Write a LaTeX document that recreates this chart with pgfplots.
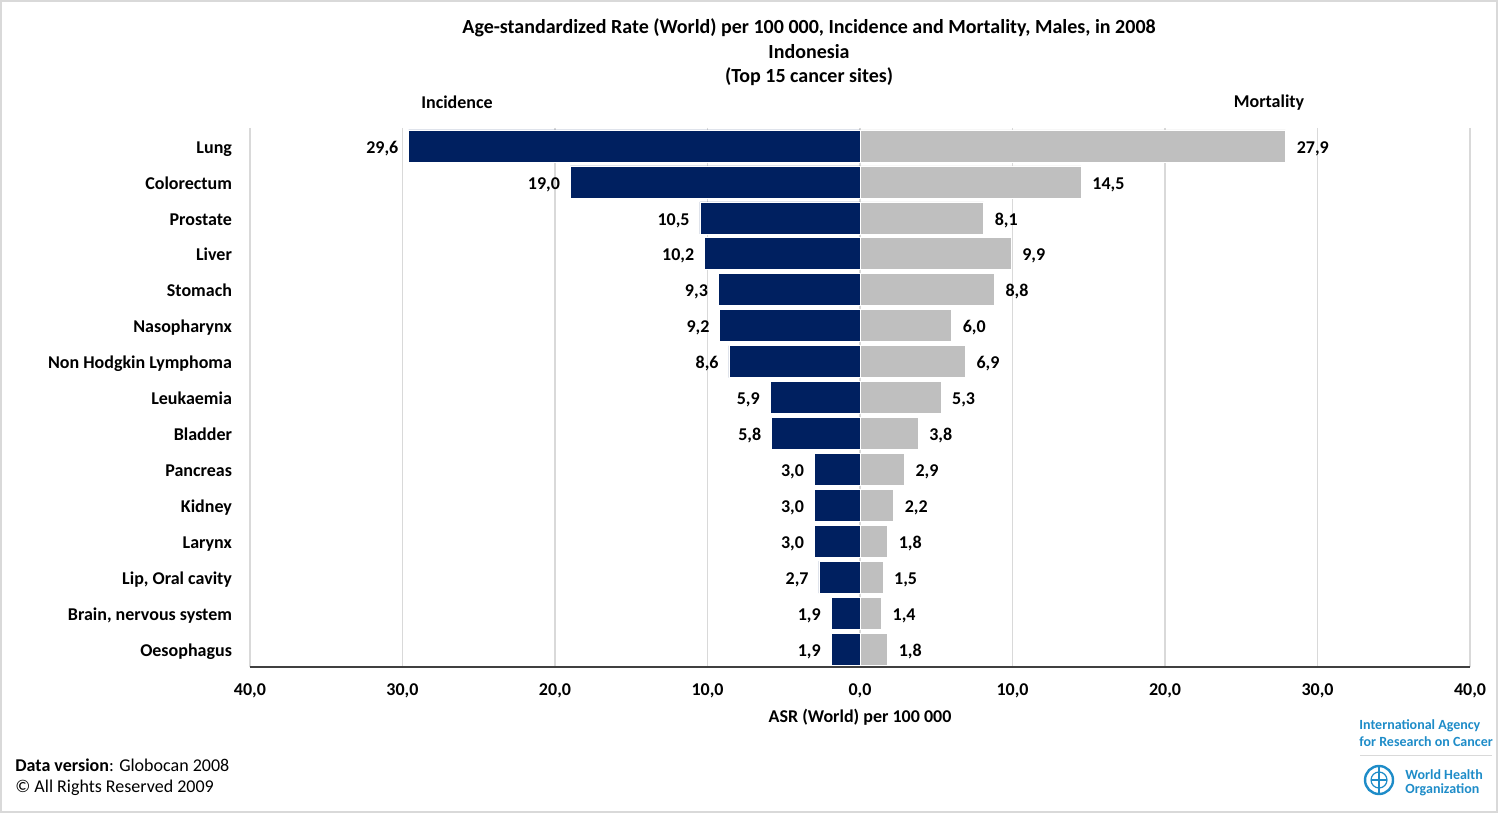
\documentclass[border=0pt]{standalone}
\usepackage{fontspec}
\setmainfont{Carlito}
\usepackage{pgfplots}
\usepackage{pgfplotstable}
\pgfplotsset{compat=1.18}
\definecolor{navy}{RGB}{0,32,96}
\definecolor{mgray}{RGB}{191,191,191}
\definecolor{iarc}{RGB}{30,140,200}
\pgfplotstableread{
idx inc mor inclab morlab
0 -29.6 27.9 29,6 27,9
1 -19.0 14.5 19,0 14,5
2 -10.5 8.1 10,5 8,1
3 -10.2 9.9 10,2 9,9
4 -9.3 8.8 9,3 8,8
5 -9.2 6.0 9,2 6,0
6 -8.6 6.9 8,6 6,9
7 -5.9 5.3 5,9 5,3
8 -5.8 3.8 5,8 3,8
9 -3.0 2.9 3,0 2,9
10 -3.0 2.2 3,0 2,2
11 -3.0 1.8 3,0 1,8
12 -2.7 1.5 2,7 1,5
13 -1.9 1.4 1,9 1,4
14 -1.9 1.8 1,9 1,8
}\data
\begin{document}
\begin{tikzpicture}[x=0.5pt,y=0.5pt]
\useasboundingbox (0,0) rectangle (1498,813);
\draw[draw=black!15,line width=1pt] (1,1) rectangle (1497,812);
\begin{axis}[
  at={(125pt,73pt)}, anchor=south west,
  scale only axis, width=610pt, height=269.5pt,
  xmin=-40, xmax=40, ymin=-0.5, ymax=14.5,
  y dir=reverse,
  xbar, bar width=16pt, bar shift=0pt,
  axis x line*=bottom, axis y line*=left,
  x axis line style={black!75,line width=0.8pt},
  y axis line style={draw=none},
  xmajorgrids, grid style={black!15,line width=0.6pt},
  xtick={-40,-30,-20,-10,0,10,20,30,40},
  xticklabels={{40,0},{30,0},{20,0},{10,0},{0,0},{10,0},{20,0},{30,0},{40,0}},
  ytick={0,...,14},
  yticklabels={Lung,Colorectum,Prostate,Liver,Stomach,Nasopharynx,Non Hodgkin Lymphoma,Leukaemia,Bladder,Pancreas,Kidney,Larynx,{Lip, Oral cavity},{Brain, nervous system},Oesophagus},
  major tick length=0pt,
  tick style={draw=none},
  xticklabel style={font=\bfseries\fontsize{9}{10}\selectfont, yshift=-5pt},
  yticklabel style={font=\bfseries\fontsize{9}{10}\selectfont, xshift=-5.5pt, text height=1.3ex, text depth=0pt, yshift=-0.5pt},
  nodes near coords={\pgfplotspointmeta},
  point meta=explicit symbolic,
  every node near coord/.append style={font=\bfseries\fontsize{9}{10}\selectfont, inner sep=0pt, text height=1.3ex, text depth=0pt, yshift=-0.5pt},
  clip=false,
]
\addplot[fill=navy, draw=white, line width=0.3pt, every node near coord/.append style={anchor=east, xshift=-5pt}] table[x=inc, y=idx, meta=inclab] {\data};
\addplot[fill=mgray, draw=white, line width=0.3pt, every node near coord/.append style={anchor=west, xshift=5.5pt}] table[x=mor, y=idx, meta=morlab] {\data};
\end{axis}
\begin{scope}[every node/.style={font=\bfseries\fontsize{10}{12}\selectfont}]
\node at (809,785) {Age-standardized Rate (World) per 100 000, Incidence and Mortality, Males, in 2008};
\node at (809,761) {Indonesia};
\node at (809,736) {(Top 15 cancer sites)};
\end{scope}
\node[font=\bfseries\fontsize{9}{10}\selectfont] at (457,711) {Incidence};
\node[font=\bfseries\fontsize{9}{10}\selectfont] at (1269,710) {Mortality};
\node[font=\bfseries\fontsize{9}{10}\selectfont] at (860,96) {ASR (World) per 100 000};
\node[font=\fontsize{9}{10}\selectfont, anchor=west, inner sep=0pt] at (15,48) {\textbf{Data version}: Globocan 2008};
\node[font=\fontsize{9}{10}\selectfont, anchor=west, inner sep=0pt] at (15,25) {© All Rights Reserved 2009};
% IARC / WHO logo
\node[font=\bfseries\fontsize{7}{8}\selectfont, text=iarc, anchor=west, inner sep=0pt] at (1359,87) {International Agency};
\node[font=\bfseries\fontsize{7}{8}\selectfont, text=iarc, anchor=west, inner sep=0pt] at (1359,71) {for Research on Cancer};
\draw[black!15, line width=0.5pt] (1360,57) -- (1492,57);
\draw[iarc, line width=1.2pt] (1379,33) circle (14);
\draw[iarc, line width=0.6pt] (1379,33) circle (8);
\draw[iarc, line width=0.6pt] (1371,33) -- (1387,33) (1379,25) -- (1379,41);
\draw[iarc, line width=1pt] (1379,46) -- (1379,18);
\node[font=\bfseries\fontsize{7}{8}\selectfont, text=iarc, anchor=west, inner sep=0pt] at (1405,38) {World Health};
\node[font=\bfseries\fontsize{7}{8}\selectfont, text=iarc, anchor=west, inner sep=0pt] at (1405,23) {Organization};
\end{tikzpicture}
\end{document}
